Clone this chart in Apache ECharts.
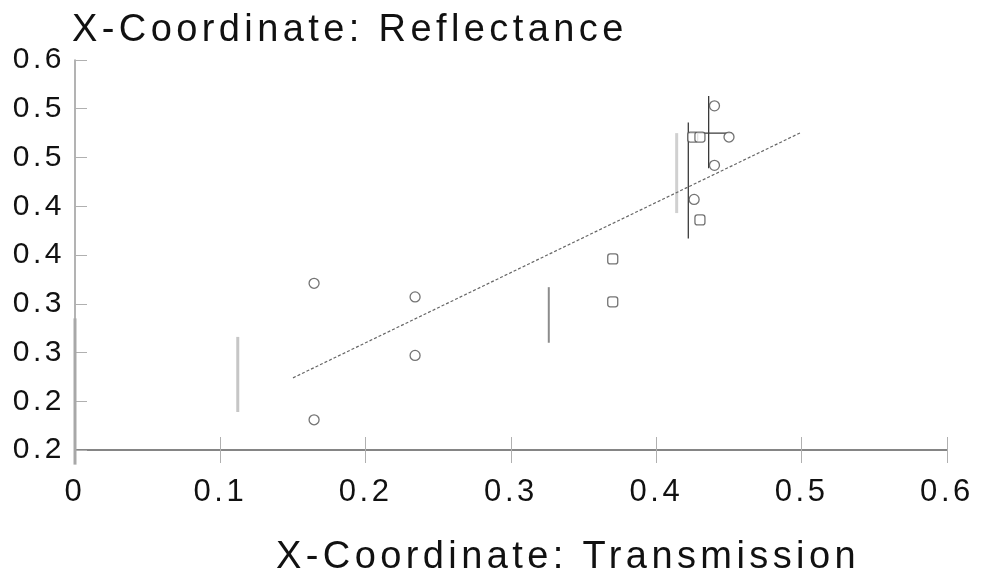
<!DOCTYPE html>
<html>
<head>
<meta charset="utf-8">
<style>
  html, body { margin: 0; padding: 0; background: #fff; }
  #chart { width: 981px; height: 574px; }
</style>
<script src="https://cdn.jsdelivr.net/npm/echarts@6/dist/echarts.min.js"></script>
</head>
<body>
<div id="chart"></div>
<script>
// Wide tracking for all canvas text: letter spacing follows the font size.
(function () {
  var proto = CanvasRenderingContext2D.prototype;
  var desc = Object.getOwnPropertyDescriptor(proto, 'font');
  if (!desc || !('letterSpacing' in proto)) return;
  Object.defineProperty(proto, 'font', {
    configurable: true,
    get: function () { return desc.get.call(this); },
    set: function (v) {
      desc.set.call(this, v);
      var m = /(\d+(?:\.\d+)?)px/.exec(v);
      if (m) this.letterSpacing = (parseFloat(m[1]) * 0.115).toFixed(1) + 'px';
    }
  });
})();

// Measured samples (open circles)
var circleX = [0.1645, 0.1645, 0.234, 0.234, 0.440, 0.450, 0.440, 0.426];
var circleY = [0.371, 0.231, 0.357, 0.297, 0.553, 0.521, 0.492, 0.457];

// Measured samples (open squares)
var squareX = [0.370, 0.370, 0.425, 0.430, 0.430];
var squareY = [0.396, 0.352, 0.521, 0.521, 0.436];

// Fitted line end points
var fitX = [0.15, 0.5];
var fitY = [0.274, 0.526];

// Grey range bars: position and low/high ends
var rangeX = [0.0, 0.112, 0.326, 0.414];
var rangeLow = [0.185, 0.239, 0.310, 0.443];
var rangeHigh = [0.335, 0.316, 0.367, 0.525];

// Dark spread lines: vertical ones and one horizontal
var spreadVX = [0.422, 0.436];
var spreadVLow = [0.417, 0.489];
var spreadVHigh = [0.536, 0.563];
var spreadHY = [0.525];
var spreadHLeft = [0.422];
var spreadHRight = [0.452];

// Axis ticks and labels
var xTickLabels = ['0', '0.1', '0.2', '0.3', '0.4', '0.5', '0.6'];
var yTickValues = [0.2, 0.25, 0.3, 0.35, 0.4, 0.45, 0.5, 0.55, 0.6];
var yTickLabels = ['0.2', '0.2', '0.3', '0.3', '0.4', '0.4', '0.5', '0.5', '0.6'];

var rangeColors = ['#a8a8a8', '#c6c6c6', '#8c8c8c', '#d0d0d0'];
var rangeWidths = [3, 3, 2, 3];

var FONT = '"Liberation Sans", Arial, sans-serif';
var TEXT = '#111111';

function zip(xs, ys) {
  return xs.map(function (x, i) { return [x, ys[i]]; });
}

var series = [];

rangeX.forEach(function (x, i) {
  series.push({
    type: 'line', data: [[x, rangeLow[i]], [x, rangeHigh[i]]],
    symbol: 'none', clip: false, silent: true, z: 2,
    lineStyle: { color: rangeColors[i], width: rangeWidths[i] }
  });
});

spreadVX.forEach(function (x, i) {
  series.push({
    type: 'line', data: [[x, spreadVLow[i]], [x, spreadVHigh[i]]],
    symbol: 'none', silent: true, z: 3,
    lineStyle: { color: '#3a3a3a', width: 1.3 }
  });
});
spreadHY.forEach(function (y, i) {
  series.push({
    type: 'line', data: [[spreadHLeft[i], y], [spreadHRight[i], y]],
    symbol: 'none', silent: true, z: 3,
    lineStyle: { color: '#3a3a3a', width: 1.3 }
  });
});

series.push({
  type: 'line', data: zip(fitX, fitY), symbol: 'none', silent: true, z: 3,
  lineStyle: { color: '#666666', width: 1.2, type: [3, 2] }
});

series.push({
  type: 'scatter', data: zip(circleX, circleY), symbol: 'circle', symbolSize: 10, z: 4,
  itemStyle: { color: '#fff', borderColor: '#505050', borderWidth: 1.3 }
});
series.push({
  type: 'scatter', data: zip(squareX, squareY), symbol: 'roundRect', symbolSize: 10, z: 4,
  itemStyle: { color: '#fff', borderColor: '#505050', borderWidth: 1.3 }
});

var chart = echarts.init(document.getElementById('chart'), null, { renderer: 'canvas' });

chart.setOption({
  animation: false,
  backgroundColor: '#ffffff',
  title: [
    {
      text: 'X-Coordinate: Reflectance', left: 67, top: 4,
      textStyle: { fontFamily: FONT, fontSize: 38, fontWeight: 'normal', color: TEXT }
    },
    {
      text: 'X-Coordinate: Transmission', left: 271, top: 531,
      textStyle: { fontFamily: FONT, fontSize: 38, fontWeight: 'normal', color: TEXT }
    }
  ],
  grid: { left: 75, right: 34, top: 60, bottom: 124, containLabel: false },
  xAxis: [
    {
      type: 'value', min: 0, max: 0.6, interval: 0.1, position: 'bottom',
      splitLine: { show: false },
      axisLine: { show: true, lineStyle: { color: '#858585', width: 2 } },
      axisTick: { show: true, inside: true, length: 13, lineStyle: { color: '#b0b0b0', width: 1 } },
      axisLabel: {
        margin: 25, fontFamily: FONT, fontSize: 31, color: TEXT,
        formatter: function (v) { return xTickLabels[Math.round(v * 10)]; }
      }
    },
    {
      type: 'value', min: 0, max: 0.6, interval: 0.1, position: 'bottom',
      splitLine: { show: false },
      axisLine: { show: false },
      axisTick: { show: true, inside: false, length: 13, lineStyle: { color: '#b0b0b0', width: 1 } },
      axisLabel: { show: false }
    }
  ],
  yAxis: {
    type: 'value', min: 0.2, max: 0.6, interval: 0.05,
    splitLine: { show: false },
    axisLine: { show: true, lineStyle: { color: '#9a9a9a', width: 1.5 } },
    axisTick: { show: true, inside: true, length: 12, lineStyle: { color: '#b0b0b0', width: 1 } },
    axisLabel: {
      margin: 10, fontFamily: FONT, fontSize: 30, color: TEXT,
      formatter: function (v) {
        var idx = yTickValues.findIndex(function (t) { return Math.abs(t - v) < 1e-6; });
        return idx >= 0 ? yTickLabels[idx] : '';
      }
    }
  },
  series: series
});
</script>
</body>
</html>
